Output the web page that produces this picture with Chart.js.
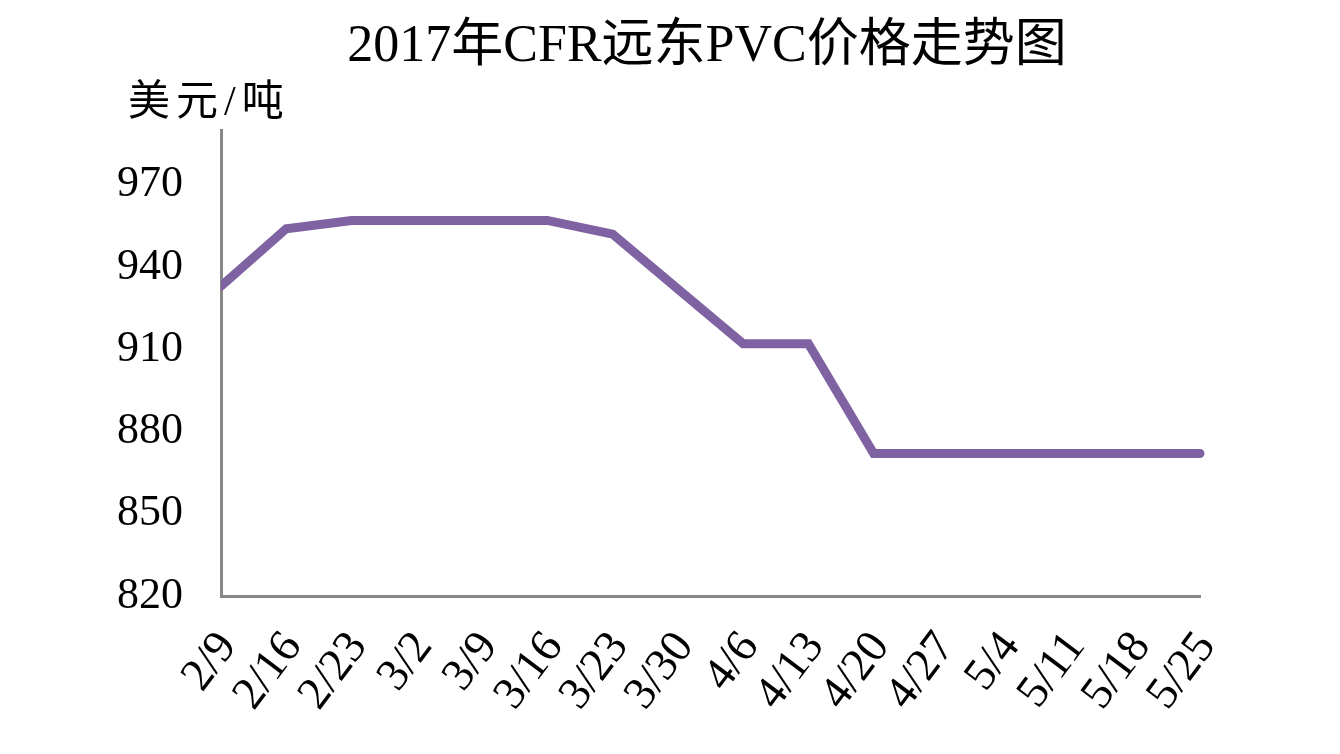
<!DOCTYPE html>
<html><head><meta charset="utf-8">
<script src="https://cdn.jsdelivr.net/npm/chart.js@4/dist/chart.umd.min.js"></script>
<style>html,body{margin:0;padding:0;background:#fff}#wrap{width:1340px;height:754px;position:relative}</style>
</head><body><div id="wrap"><canvas id="c" width="1340" height="754"></canvas></div>
<script>
const categories = ['2/9','2/16','2/23','3/2','3/9','3/16','3/23','3/30','4/6','4/13','4/20','4/27','5/4','5/11','5/18','5/25'];
const prices = [933,954,957,957,957,957,952,932,912,912,872,872,872,872,872,872];
const yTicks = [820,850,880,910,940,970];
const titleText = '2017年CFR远东PVC价格走势图';
const unitText = '美元/吨';

const SERIF = '"Liberation Serif", "Noto Sans CJK SC", serif';

const textLabels = {
  id: 'textLabels',
  afterDraw(chart) {
    const ctx = chart.ctx;
    ctx.save();
    ctx.fillStyle = '#000';
    ctx.textBaseline = 'middle';
    ctx.font = '52px ' + SERIF;
    ctx.textAlign = 'center';
    ctx.fillText(titleText, 707, 47);
    ctx.font = '42px ' + SERIF;
    ctx.textAlign = 'left';
    if ('letterSpacing' in ctx) ctx.letterSpacing = '6px';
    ctx.fillText(unitText, 128, 104);
    ctx.restore();
  }
};

new Chart(document.getElementById('c'), {
  type: 'line',
  data: {
    labels: categories,
    datasets: [{
      data: prices,
      borderColor: '#7E62A1',
      borderWidth: 9,
      borderCapStyle: 'round',
      borderJoinStyle: 'miter',
      pointRadius: 0,
      tension: 0,
      fill: false,
      clip: {left: 0, top: false, right: false, bottom: false}
    }]
  },
  options: {
    responsive: false,
    animation: false,
    layout: {padding: {left: 0, right: 140, top: 130, bottom: 0}},
    plugins: {
      legend: {display: false},
      tooltip: {enabled: false},
      title: {display: false}
    },
    scales: {
      x: {
        type: 'category',
        offset: false,
        grid: {display: false, drawTicks: false},
        border: {display: true, color: '#888888', width: 3},
        ticks: {
          color: '#000',
          autoSkip: false,
          maxRotation: 53,
          minRotation: 53,
          padding: 26,
          labelOffset: 7,
          font: {family: SERIF, size: 46}
        },
        afterFit(scale) { scale.height = 158; }
      },
      y: {
        min: 820,
        max: 990,
        grid: {display: false, drawTicks: false},
        border: {display: true, color: '#888888', width: 3},
        ticks: {
          color: '#000',
          padding: 38,
          font: {family: SERIF, size: 44}
        },
        afterBuildTicks(scale) { scale.ticks = yTicks.map(v => ({value: v})); },
        afterFit(scale) { scale.width = 221; }
      }
    }
  },
  plugins: [textLabels]
});
</script>
</body></html>
